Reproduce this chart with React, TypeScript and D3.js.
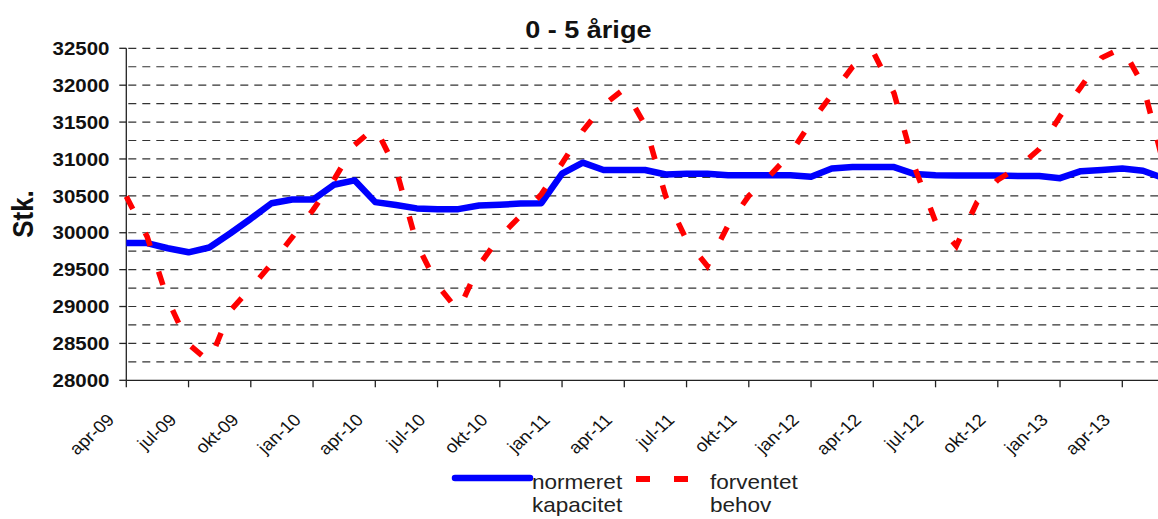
import * as d3 from "d3";

const width = 1158;
const height = 519;
const sx = 1.1; // the original is slightly stretched horizontally

// months from apr-09 (index 0) to jun-13 (index 50)
const tickLabels = [
  "apr-09", "jul-09", "okt-09", "jan-10", "apr-10", "jul-10", "okt-10", "jan-11",
  "apr-11", "jul-11", "okt-11", "jan-12", "apr-12", "jul-12", "okt-12", "jan-13", "apr-13",
];

const kapacitet = [
  29860, 29860, 29790, 29735, 29800, 29990, 30190, 30400, 30450, 30450,
  30650, 30710, 30415, 30375, 30330, 30320, 30320, 30370, 30380, 30395,
  30400, 30800, 30950, 30850, 30850, 30850, 30790, 30800, 30800, 30780,
  30780, 30780, 30780, 30760, 30870, 30890, 30890, 30890, 30795, 30780,
  30775, 30775, 30775, 30770, 30770, 30740, 30835, 30850, 30870, 30840,
  30740,
];

const behov = [
  30490, 29950, 29090, 28490, 28250, 28940, 29250, 29580, 29940, 30310,
  30715, 31190, 31430, 30860, 29850, 29290, 28940, 29560, 29945, 30230,
  30520, 30940, 31380, 31730, 31950, 31460, 30490, 29900, 29550, 30100,
  30500, 30770, 31070, 31500, 31870, 32250, 32450, 31890, 30880, 30150,
  29820, 30415, 30715, 30890, 31135, 31580, 31975, 32370, 32505, 32000,
  30920,
];

const yTicks = [28000, 28500, 29000, 29500, 30000, 30500, 31000, 31500, 32000, 32500];
const gridValues = d3.range(28250, 32501, 250);

const font = "'Liberation Sans', Arial, sans-serif";

export default function App() {
  const x = d3.scaleLinear().domain([0, 48]).range([126.3, 1122.3]);
  const y = d3.scaleLinear().domain([28000, 32500]).range([380.3, 48.3]);

  const line = d3
    .line<number>()
    .x((_, i) => x(i))
    .y((d) => y(d));

  const x0 = x(0);

  return (
    <svg
      width={width}
      height={height}
      style={{ position: "absolute", left: 0, top: 0, background: "#fff" }}
      fontFamily={font}
    >
      {/* title */}
      <text
        transform={`translate(588.3,38) scale(${sx},1)`}
        textAnchor="middle"
        fontSize={24.6}
        fontWeight="bold"
        fill="#111"
      >
        0 - 5 årige
      </text>

      {/* gridlines */}
      {gridValues.map((v) => (
        <line
          key={v}
          x1={x0 + 2}
          x2={width}
          y1={y(v)}
          y2={y(v)}
          stroke="#333"
          strokeWidth={1.2}
          strokeDasharray="8,6"
        />
      ))}

      {/* y axis */}
      <line x1={x0} x2={x0} y1={y(32500)} y2={y(28000)} stroke="#222" strokeWidth={1.3} />
      {yTicks.map((v) => (
        <g key={v}>
          <line x1={x0 - 7} x2={x0} y1={y(v)} y2={y(v)} stroke="#222" strokeWidth={1.3} />
          <text
            transform={`translate(109.5,${y(v) + 6.7}) scale(${sx},1)`}
            textAnchor="end"
            fontSize={18.6}
            fontWeight="bold"
            fill="#111"
          >
            {v}
          </text>
        </g>
      ))}
      <text
        transform={`translate(33,214) scale(${sx},1) rotate(-90)`}
        textAnchor="middle"
        fontSize={26}
        fontWeight="bold"
        fill="#111"
      >
        Stk.
      </text>

      {/* x axis */}
      <line x1={x0} x2={width} y1={y(28000)} y2={y(28000)} stroke="#222" strokeWidth={1.3} />
      {tickLabels.map((label, k) => {
        const tx = x(k * 3);
        return (
          <g key={label}>
            <line x1={tx} x2={tx} y1={y(28000)} y2={y(28000) + 7} stroke="#222" strokeWidth={1.3} />
            <text
              transform={`translate(${tx - 11},421) scale(${sx},1) rotate(-45)`}
              textAnchor="end"
              fontSize={17}
              fill="#111"
            >
              {label}
            </text>
          </g>
        );
      })}

      {/* series */}
      <path
        d={line(kapacitet) ?? ""}
        fill="none"
        stroke="#0000ff"
        strokeWidth={6.5}
        strokeLinejoin="round"
      />
      <path
        d={line(behov) ?? ""}
        fill="none"
        stroke="#ff0000"
        strokeWidth={5.5}
        strokeDasharray="14,27"
      />

      {/* legend */}
      <line x1={455} x2={530} y1={478} y2={478} stroke="#0000ff" strokeWidth={6.5} strokeLinecap="round" />
      <text transform={`translate(532,489) scale(${sx},1)`} fontSize={20.5} fill="#222">
        normeret
      </text>
      <text transform={`translate(532,512) scale(${sx},1)`} fontSize={20.5} fill="#222">
        kapacitet
      </text>
      <line x1={636} x2={706} y1={479} y2={479} stroke="#ff0000" strokeWidth={6} strokeDasharray="14,24" />
      <text transform={`translate(710,489) scale(${sx},1)`} fontSize={20.5} fill="#222">
        forventet
      </text>
      <text transform={`translate(710,512) scale(${sx},1)`} fontSize={20.5} fill="#222">
        behov
      </text>
    </svg>
  );
}
